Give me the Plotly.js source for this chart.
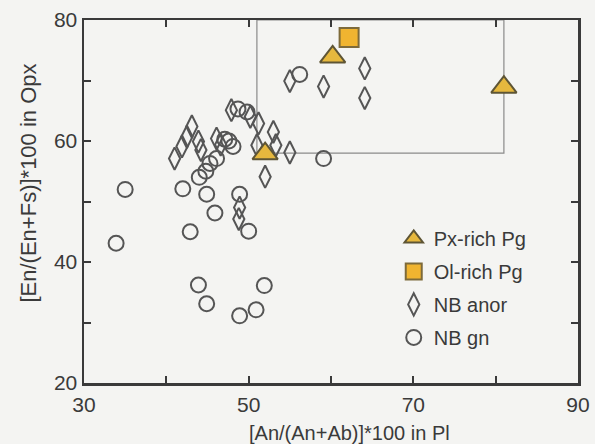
<!DOCTYPE html>
<html>
<head>
<meta charset="utf-8">
<script src="https://cdn.plot.ly/plotly-3.0.1.min.js"></script>
<style>
  html, body { margin: 0; padding: 0; background: #f4f4f2; }
  #chart { width: 595px; height: 444px; }
</style>
</head>
<body>
<div id="chart"></div>
<script>
// Px-rich pyroxenite-gabbro samples
const pxRichX = [52.0, 60.2, 81.0];
const pxRichY = [57.9, 73.9, 68.9];

// Ol-rich pyroxenite-gabbro sample
const olRichX = [62.2];
const olRichY = [77.1];

// NB anorthosites
const anorX = [41.0, 41.9, 42.5, 43.1, 43.9, 44.2, 46.1, 46.6, 47.9, 50.2, 51.2,
               51.0, 53.0, 53.3, 55.0, 52.0, 55.0, 59.1, 64.1, 64.1, 48.9, 48.8];
const anorY = [57.1, 59.1, 60.7, 62.4, 59.9, 58.5, 60.4, 59.4, 65.1, 64.0, 62.9,
               59.3, 61.5, 59.3, 58.1, 54.1, 69.9, 69.0, 72.0, 67.1, 49.0, 47.1];

// NB gneisses
const gnX = [48.7, 49.8, 56.2, 47.1, 47.6, 48.1, 46.1, 45.3, 44.8, 44.0, 42.0,
             35.0, 44.9, 48.9, 45.9, 50.0, 42.9, 33.9, 43.9, 44.9, 48.9, 50.9, 51.9, 59.1];
const gnY = [65.3, 64.8, 71.0, 60.3, 60.0, 59.1, 57.1, 56.3, 55.0, 54.0, 52.1,
             52.0, 51.2, 51.2, 48.1, 45.1, 45.0, 43.1, 36.2, 33.1, 31.1, 32.1, 36.1, 57.1];

// Outlined field (An, En limits)
const fieldX = [51, 81];
const fieldY = [58, 80];

// Axis ticks
const xTickVals = [30, 40, 50, 60, 70, 80, 90];
const xTickText = ['30', '', '50', '', '70', '', '90'];
const yTickVals = [20, 30, 40, 50, 60, 70, 80];
const yTickText = ['20', '', '40', '', '60', '', '80'];

const xTitle = '[An/(An+Ab)]*100 in Pl';
const yTitle = '[En/(En+Fs)]*100 in Opx';

const FONT = 'Liberation Sans, Arial, Helvetica, sans-serif';
const INK = '#3a3a3a';
const OPEN = '#555555';

const traces = [
  {
    x: gnX, y: gnY, name: 'NB gn', type: 'scatter', mode: 'markers',
    legendgroup: 'g4', legendrank: 4,
    marker: { symbol: 'circle-open', size: 15, color: OPEN, line: { width: 2, color: OPEN } }
  },
  {
    x: anorX, y: anorY, name: 'NB anor', type: 'scatter', mode: 'markers',
    legendgroup: 'g3', legendrank: 3,
    marker: { symbol: 'diamond-tall-open', size: 16, color: OPEN, line: { width: 2, color: OPEN } }
  },
  {
    x: olRichX, y: olRichY, name: 'Ol-rich Pg', type: 'scatter', mode: 'markers',
    legendgroup: 'g2', legendrank: 2,
    marker: { symbol: 'square', size: 19, color: '#f0b430', line: { width: 2, color: '#7d6a3a' } }
  },
  {
    x: pxRichX, y: pxRichY, name: 'Px-rich Pg', type: 'scatter', mode: 'markers',
    legendgroup: 'g1', legendrank: 1,
    marker: { symbol: 'triangle-up', size: 22, color: '#e6b83e', line: { width: 2, color: '#5e5535' } }
  }
];

const axisCommon = {
  showline: true, linecolor: INK, linewidth: 2.5, mirror: 'ticks',
  ticks: 'inside', ticklen: 7, tickwidth: 2, tickcolor: INK,
  showgrid: false, zeroline: false,
  tickfont: { family: FONT, size: 21, color: INK }
};

const layout = {
  width: 595, height: 444,
  margin: { l: 84, r: 17, t: 20, b: 61 },
  paper_bgcolor: '#f4f4f2',
  plot_bgcolor: '#f4f4f2',
  showlegend: true,
  legend: {
    x: 0.627, y: 0.452, xanchor: 'left', yanchor: 'top',
    bgcolor: 'rgba(0,0,0,0)', tracegroupgap: 4,
    font: { family: FONT, size: 20, color: INK },
    itemsizing: 'trace'
  },
  xaxis: Object.assign({}, axisCommon, {
    range: [30, 90], tickmode: 'array', tickvals: xTickVals, ticktext: xTickText,
    ticklabelstandoff: 1
  }),
  yaxis: Object.assign({}, axisCommon, {
    range: [20, 80], tickmode: 'array', tickvals: yTickVals, ticktext: yTickText
  }),
  annotations: [
    {
      text: xTitle, xref: 'paper', yref: 'paper', x: 0.538, y: -0.139,
      xanchor: 'center', yanchor: 'middle', showarrow: false,
      font: { family: FONT, size: 20, color: INK }
    },
    {
      text: yTitle, xref: 'paper', yref: 'paper', x: -0.113, y: 0.55,
      xanchor: 'center', yanchor: 'middle', showarrow: false, textangle: -90,
      font: { family: FONT, size: 22, color: INK }
    }
  ],
  shapes: [{
    type: 'rect', xref: 'x', yref: 'y', layer: 'below',
    x0: fieldX[0], x1: fieldX[1], y0: fieldY[0], y1: fieldY[1],
    line: { color: '#8a8a8a', width: 1.2 }
  }]
};

Plotly.newPlot('chart', traces, layout, { staticPlot: true, displayModeBar: false });
</script>
</body>
</html>
